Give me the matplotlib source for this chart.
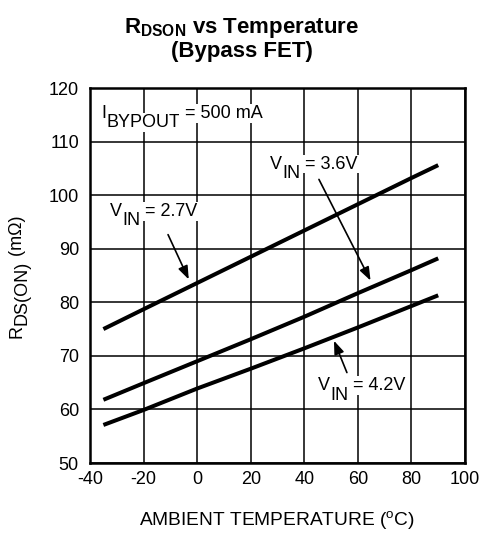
import matplotlib
matplotlib.use("Agg")
import matplotlib.pyplot as plt

plt.rcParams['font.family'] = ['Liberation Sans', 'DejaVu Sans']
plt.rcParams['mathtext.default'] = 'regular'
plt.rcParams['axes.unicode_minus'] = False

# temperature points (deg C)
temps = [-35, -20, 0, 20, 40, 60, 80, 90]
rds_27 = [75.0, 78.7, 83.6, 88.5, 93.4, 98.3, 103.2, 105.6]
rds_36 = [61.8, 64.9, 69.0, 73.1, 77.3, 81.7, 86.0, 88.2]
rds_42 = [57.1, 59.9, 63.9, 67.6, 71.4, 75.3, 79.3, 81.3]

x_ticks = [-40, -20, 0, 20, 40, 60, 80, 100]
y_ticks = [50, 60, 70, 80, 90, 100, 110, 120]

FS = 13
box = dict(facecolor='white', edgecolor='none', pad=0.6)


def sub_label(ax, x, y, main, sub, rest, shift=9.5):
    # text with a full-size, lowered subscript (datasheet style)
    t1 = ax.text(x, y, main, fontsize=FS, ha='left', va='center', bbox=box, zorder=4)
    t2 = ax.annotate(sub, xy=(1, 0), xycoords=t1, xytext=(0, -shift),
                     textcoords='offset pixels', ha='left', va='bottom',
                     fontsize=FS, bbox=box, zorder=4)
    ax.annotate(rest, xy=(1, 0), xycoords=(t2, t1), ha='left', va='bottom',
                fontsize=FS, bbox=box, zorder=4)


fig = plt.figure(figsize=(4.85, 5.34), dpi=100)
ax = fig.add_axes([90 / 485, 1 - 463 / 534, 375 / 485, 375 / 534])

for vals in (rds_27, rds_36, rds_42):
    ax.plot(temps, vals, color='black', lw=2.9, solid_capstyle='butt', zorder=3)

ax.set_xlim(-40, 100)
ax.set_ylim(50, 120)
ax.set_xticks(x_ticks)
ax.set_yticks(y_ticks)
ax.grid(True, color='black', lw=1.1)
ax.tick_params(length=0, labelsize=FS)
ax.tick_params(axis='x', pad=6)
ax.tick_params(axis='y', pad=8)
for sp in ax.spines.values():
    sp.set_linewidth(1.8)

sub_label(ax, -35.7, 115.3, 'I', 'BYPOUT', ' = 500 mA')
sub_label(ax, -32.5, 97.0, 'V', 'IN', ' = 2.7V')
sub_label(ax, 27.2, 105.8, 'V', 'IN', ' = 3.6V')
sub_label(ax, 45.1, 64.4, 'V', 'IN', ' = 4.2V')

arrow = dict(arrowstyle='-|>,head_length=0.8,head_width=0.3', color='black', lw=1.2)
ax.annotate('', xy=(-2.7, 83.8), xytext=(-11.3, 93.1), arrowprops=arrow, zorder=5)
ax.annotate('', xy=(65.2, 83.6), xytext=(45.0, 103.4), arrowprops=arrow, zorder=5)
ax.annotate('', xy=(50.7, 73.3), xytext=(56.3, 66.4), arrowprops=arrow, zorder=5)

# x axis title
fig.text(277 / 485, 1 - 520 / 534, 'AMBIENT TEMPERATURE ($^{o}$C)',
         fontsize=13.8, ha='center', va='center')

# y axis title, built from pieces so the subscript stays full size
r = fig.text(8.6 / 485, 1 - 338 / 534, 'R', rotation=90, ha='left', va='bottom', fontsize=FS)
ds = ax.annotate('DS(ON)', xy=(0, 1), xycoords=r, xytext=(4.5, 0),
                 textcoords='offset pixels', rotation=90, ha='left', va='bottom', fontsize=FS)
ax.annotate(' (m\u03a9)', xy=(0, 1), xycoords=(r, ds), rotation=90,
            ha='left', va='bottom', fontsize=FS)

fig.text(242 / 485, 1 - 39 / 534, 'R$_{DSON}$ vs Temperature\n(Bypass FET)',
         fontsize=16, fontweight='bold', ha='center', va='center', linespacing=1.05)

fig.savefig('out.png', dpi=100)
